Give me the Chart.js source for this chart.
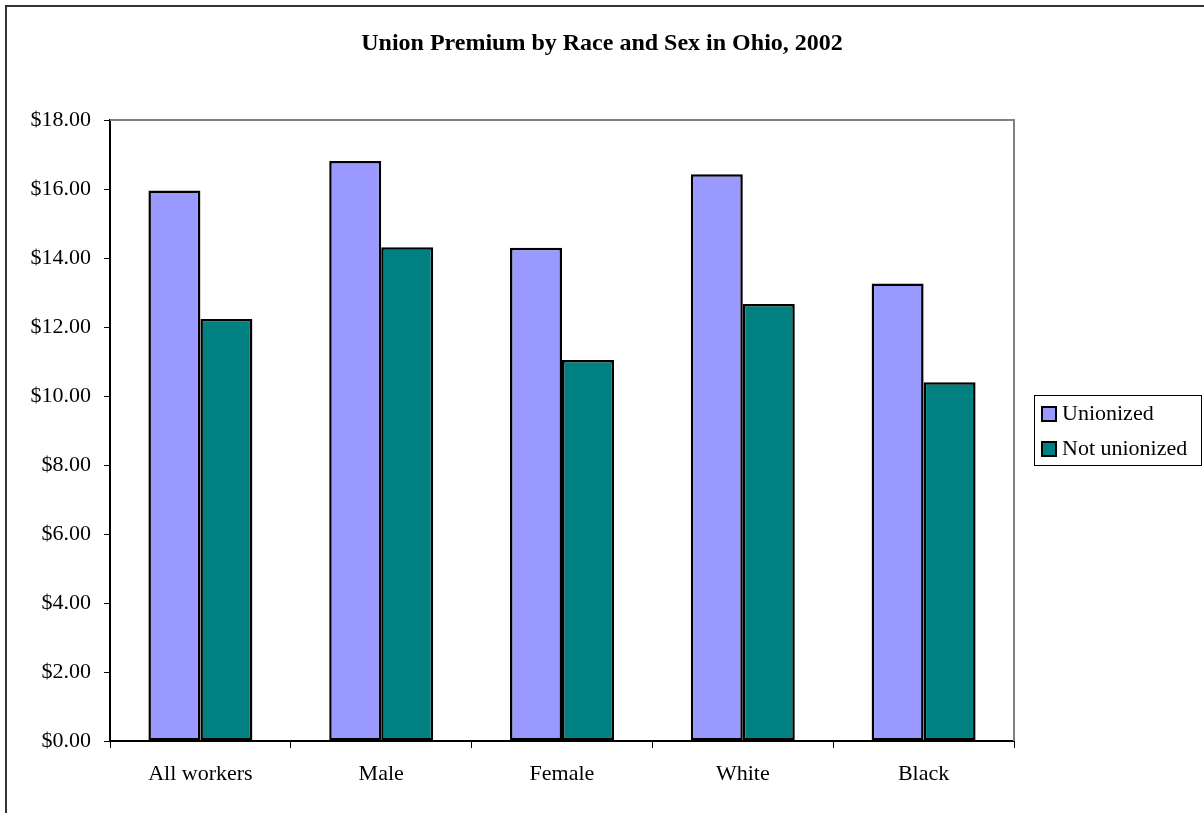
<!DOCTYPE html>
<html>
<head>
<meta charset="utf-8">
<script src="https://cdn.jsdelivr.net/npm/chart.js@4"></script>
<style>
    html, body { margin: 0; padding: 0; background: #fff; }
    #wrap { position: relative; width: 1204px; height: 813px; }
</style>
</head>
<body>
<div id="wrap"><canvas id="chart" width="1204" height="813"></canvas></div>
<script>
// data
const categories = ['All workers', 'Male', 'Female', 'White', 'Black'];
const unionized = [15.96, 16.81, 14.30, 16.43, 13.26];
const notUnionized = [12.23, 14.31, 11.04, 12.67, 10.40];
const seriesNames = ['Unionized', 'Not unionized'];
const seriesColors = ['#9999FF', '#008080'];
const chartTitle = 'Union Premium by Race and Sex in Ohio, 2002';

const FONT = '"Liberation Serif", "Times New Roman", serif';

// title, frame lines and legend drawn by hand, like the original sheet
const decorPlugin = {
    id: 'decor',
    afterDraw(chart) {
        const ctx = chart.ctx;
        const a = chart.chartArea;
        ctx.save();

        // outer frame (top + left only visible)
        ctx.strokeStyle = '#333';
        ctx.lineWidth = 2;
        ctx.beginPath();
        ctx.moveTo(6, 813);
        ctx.lineTo(6, 6);
        ctx.lineTo(1204, 6);
        ctx.stroke();

        // gray plot border top + right
        ctx.strokeStyle = '#808080';
        ctx.lineWidth = 2;
        ctx.beginPath();
        ctx.moveTo(a.left, a.top);
        ctx.lineTo(a.right, a.top);
        ctx.lineTo(a.right, a.bottom);
        ctx.stroke();

        // title
        ctx.fillStyle = '#000';
        ctx.font = 'bold 24px ' + FONT;
        ctx.textAlign = 'center';
        ctx.textBaseline = 'middle';
        ctx.fillText(chartTitle, 602, 44);

        // legend box
        ctx.strokeStyle = '#000';
        ctx.lineWidth = 1;
        ctx.strokeRect(1034.5, 395.5, 167, 70);
        ctx.font = '22px ' + FONT;
        ctx.textAlign = 'left';
        chart.data.datasets.forEach((ds, i) => {
            const y = 414 + i * 35;
            ctx.fillStyle = ds.backgroundColor;
            ctx.fillRect(1042, y - 7, 14, 14);
            ctx.lineWidth = 2;
            ctx.strokeRect(1042, y - 7, 14, 14);
            ctx.fillStyle = '#000';
            ctx.fillText(ds.label, 1062, y);
        });
        ctx.restore();
    }
};

new Chart(document.getElementById('chart'), {
    type: 'bar',
    data: {
        labels: categories,
        datasets: [
            {
                label: seriesNames[0],
                data: unionized,
                backgroundColor: seriesColors[0],
                borderColor: '#000',
                borderWidth: 2.5,
                borderSkipped: false
            },
            {
                label: seriesNames[1],
                data: notUnionized,
                backgroundColor: seriesColors[1],
                borderColor: '#000',
                borderWidth: 2.5,
                borderSkipped: false
            }
        ]
    },
    options: {
        responsive: false,
        animation: false,
        datasets: {
            bar: { barPercentage: 1, categoryPercentage: 0.575 }
        },
        layout: {
            padding: { left: 0, top: 120, right: 190, bottom: 12 }
        },
        plugins: {
            legend: { display: false },
            title: { display: false },
            tooltip: { enabled: false }
        },
        scales: {
            x: {
                afterFit(scale) { scale.height = 60; },
                grid: {
                    offset: true,
                    drawOnChartArea: false,
                    drawTicks: true,
                    tickLength: 7,
                    color: '#000'
                },
                border: { display: true, color: '#000', width: 2 },
                ticks: {
                    color: '#000',
                    font: { family: FONT, size: 22 },
                    padding: 13,
                    maxRotation: 0
                }
            },
            y: {
                min: 0,
                max: 18,
                afterFit(scale) { scale.width = 110; },
                grid: {
                    drawOnChartArea: false,
                    drawTicks: true,
                    tickLength: 6,
                    color: '#000'
                },
                border: { display: true, color: '#000', width: 2 },
                ticks: {
                    stepSize: 2,
                    color: '#000',
                    font: { family: FONT, size: 22 },
                    padding: 13,
                    callback: v => '$' + Number(v).toFixed(2)
                }
            }
        }
    },
    plugins: [decorPlugin]
});
</script>
</body>
</html>
